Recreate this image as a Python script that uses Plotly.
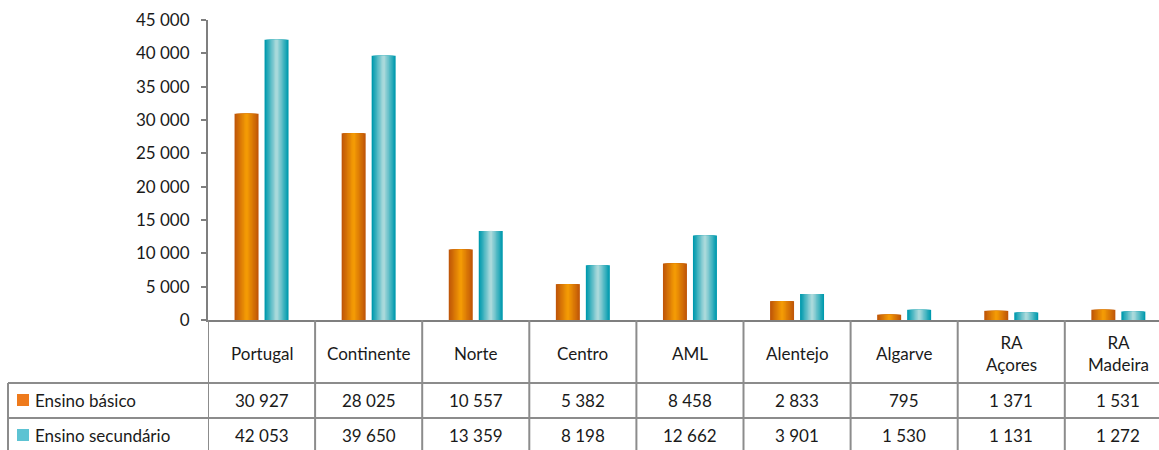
import plotly.graph_objects as go

# ---- data ----
categories = ["Portugal", "Continente", "Norte", "Centro", "AML", "Alentejo",
              "Algarve", "RA<br>Açores", "RA<br>Madeira"]
series_names = ["Ensino básico", "Ensino secundário"]
basico = [30927, 28025, 10557, 5382, 8458, 2833, 795, 1371, 1531]
secundario = [42053, 39650, 13359, 8198, 12662, 3901, 1530, 1131, 1272]
y_tickvals = [0, 5000, 10000, 15000, 20000, 25000, 30000, 35000, 40000, 45000]
y_ticktext = ["0", "5 000", "10 000", "15 000", "20 000", "25 000",
              "30 000", "35 000", "40 000", "45 000"]

# ---- layout constants ----
W, H = 1159, 450
ML, MR, MT, MB = 208, 0, 20, 130
PW, PH = W - ML - MR, H - MT - MB
COL = 107.1  # pixel width per category
FONT = "Lato"
FS = 17
GRID = "#8C8C8C"
TXT = "#1a1a1a"


def px_x(p):
    return (p - ML) / PW


def px_y(p):
    return (H - MB - p) / PH


def hexmix(c1, c2, t):
    a = [int(c1[i:i + 2], 16) for i in (1, 3, 5)]
    b = [int(c2[i:i + 2], 16) for i in (1, 3, 5)]
    return "#" + "".join(f"{round(a[i] + (b[i] - a[i]) * t):02x}" for i in range(3))


fig = go.Figure()
xs = list(range(len(categories)))
BW = 0.224
specs = [(basico, -0.14, "#C05708", "#F39A05"),
         (secundario, 0.14, "#009AAE", "#A9D9DB")]
N = 9
for vals, cen, edge, mid in specs:
    for k in range(N):
        w = BW * (1 - k / N)
        col = hexmix(edge, mid, k / (N - 1))
        fig.add_trace(go.Bar(
            x=xs, y=vals, width=[w] * len(xs), offset=[cen - w / 2] * len(xs),
            marker=dict(color=col, line=dict(width=0)),
            showlegend=False, hoverinfo="skip"))

x_range = [-0.5, -0.5 + PW / COL]

fig.update_layout(
    width=W, height=H, barmode="overlay",
    margin=dict(l=ML, r=MR, t=MT, b=MB, pad=0),
    paper_bgcolor="white", plot_bgcolor="white",
    font=dict(family=FONT, size=FS, color=TXT),
    showlegend=False,
    xaxis=dict(range=x_range, showticklabels=False, showgrid=False, zeroline=False,
               showline=True, linecolor="#7F7F7F", linewidth=2, ticks=""),
    yaxis=dict(range=[0, 45000], tickvals=y_tickvals, ticktext=y_ticktext,
               showgrid=False, zeroline=False, showline=True, linecolor="#7F7F7F",
               linewidth=2, ticks="outside", ticklen=5, tickwidth=2,
               tickcolor="#7F7F7F", ticklabelstandoff=8,
               tickfont=dict(family=FONT, size=FS, color=TXT)),
)

shapes = []
bottom = px_y(H + 5)
# vertical column lines
for i in range(len(categories)):
    shapes.append(dict(type="line", xref="x", yref="paper", x0=i - 0.5, x1=i - 0.5,
                       y0=0, y1=bottom, line=dict(color=GRID, width=2)))
# horizontal row lines
for yp in (383, 418):
    shapes.append(dict(type="line", xref="paper", yref="paper", x0=px_x(8), x1=1.0,
                       y0=px_y(yp), y1=px_y(yp), line=dict(color=GRID, width=2)))
# left border of label column
shapes.append(dict(type="line", xref="paper", yref="paper", x0=px_x(8), x1=px_x(8),
                   y0=px_y(383), y1=bottom, line=dict(color=GRID, width=2)))
# legend keys
key_colors = ["#EE7A1C", "#5DC3D3"]
row_centers = [400, 435]
for kc, rc in zip(key_colors, row_centers):
    shapes.append(dict(type="rect", xref="paper", yref="paper",
                       x0=px_x(17), x1=px_x(29), y0=px_y(rc - 6), y1=px_y(rc + 6),
                       fillcolor=kc, line=dict(width=0)))
fig.update_layout(shapes=shapes)

ann = []
for i, c in enumerate(categories):
    ann.append(dict(x=i, y=px_y(353), xref="x", yref="paper", text=c, showarrow=False,
                    xanchor="center", yanchor="middle", align="center",
                    font=dict(family=FONT, size=FS, color=TXT)))
for vals, rc in zip((basico, secundario), row_centers):
    for i, v in enumerate(vals):
        ann.append(dict(x=i, y=px_y(rc), xref="x", yref="paper",
                        text=f"{v:,}".replace(",", " "), showarrow=False,
                        xanchor="center", yanchor="middle",
                        font=dict(family=FONT, size=FS, color=TXT)))
for name, rc in zip(series_names, row_centers):
    ann.append(dict(x=px_x(33), y=px_y(rc), xref="paper", yref="paper", text=name,
                    showarrow=False, xanchor="left", yanchor="middle",
                    font=dict(family=FONT, size=FS, color=TXT)))
fig.update_layout(annotations=ann)

fig.write_html("out.html", config={"displayModeBar": False},
               post_script="document.body.style.margin='0';"
                           "document.body.style.overflow='hidden';")
